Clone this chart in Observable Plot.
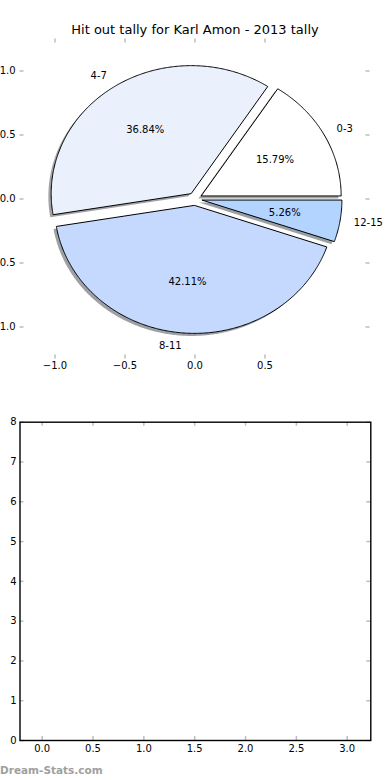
<!DOCTYPE html>
<html><head><meta charset="utf-8">
<script src="https://cdn.jsdelivr.net/npm/d3@7"></script>
<script src="https://cdn.jsdelivr.net/npm/@observablehq/plot@0.6"></script>
<style>
body{margin:0;background:#fff;}
#wrap{position:relative;width:390px;height:780px;overflow:hidden;font-family:"DejaVu Sans",sans-serif;background:#fff;}
#pie{position:absolute;left:0;top:0;}
#empty{position:absolute;left:0;top:380px;}
#title{position:absolute;left:0;width:390px;top:23px;text-align:center;font-size:13px;line-height:13px;color:#000;white-space:nowrap;}
#mark{position:absolute;left:0;top:765px;font-size:10.5px;line-height:10.5px;font-weight:bold;color:#a0a0a0;white-space:nowrap;}
</style></head><body>
<div id="wrap">
<div id="pie"></div>
<div id="empty"></div>
<div id="title"></div>
<div id="mark"></div>
</div>
<script>
const titleText = "Hit out tally for Karl Amon - 2013 tally";
const watermark = "Dream-Stats.com";
const categories = ["0-3", "4-7", "8-11", "12-15"];
const counts = [3, 7, 8, 1];
const colors = ["#ffffff", "#eaf1fd", "#c5d8fe", "#b3d4ff"];
const explode = [0.05, 0.05, 0.05, 0.05];
const pieXTicks = [-1, -0.5, 0, 0.5];
const pieYTicks = [-1, -0.5, 0, 0.5, 1];
const gridXTicks = [0, 0.5, 1, 1.5, 2, 2.5, 3];
const gridYTicks = [0, 1, 2, 3, 4, 5, 6, 7, 8];

document.getElementById("title").textContent = titleText;
document.getElementById("mark").textContent = watermark;

const fmt1 = d => (d < 0 ? "\u2212" : "") + Math.abs(d).toFixed(1);
const fmt0 = d => String(d);

// Build wedge geometry (data units) from the counts
const total = d3.sum(counts);
const rad = Math.PI / 180;
let start = 0;
const wedges = counts.map((c, i) => {
  const a0 = start, a1 = start + 360 * c / total;
  start = a1;
  const mid = (a0 + a1) / 2 * rad;
  const cx = explode[i] * Math.cos(mid), cy = explode[i] * Math.sin(mid);
  const n = Math.max(2, Math.ceil((a1 - a0) / 0.5));
  const pts = [{x: cx, y: cy}];
  for (let k = 0; k <= n; k++) {
    const a = (a0 + (a1 - a0) * k / n) * rad;
    pts.push({x: cx + Math.cos(a), y: cy + Math.sin(a)});
  }
  pts.push({x: cx, y: cy});
  const rgb = d3.rgb(colors[i]);
  return {
    cat: categories[i], color: colors[i],
    shadowColor: d3.rgb(rgb.r * 0.3, rgb.g * 0.3, rgb.b * 0.3).formatHex(),
    pts,
    shadow: pts.map(p => ({x: p.x - 0.02, y: p.y - 0.02})),
    label: {x: cx + 1.1 * Math.cos(mid), y: cy + 1.1 * Math.sin(mid), text: categories[i]},
    pct: {x: cx + 0.6 * Math.cos(mid), y: cy + 0.6 * Math.sin(mid), text: (100 * c / total).toFixed(2) + "%"}
  };
});
const labels = wedges.map(w => w.label);
const pcts = wedges.map(w => w.pct);

const tickColor = "#bdbdbd";
const pieW = 390, pieH = 380, pml = 19.5, pmr = 20.5, pmt = 38.5, pmb = 21.5;
const pfw = pieW - pml - pmr, pfh = pieH - pmt - pmb;

const pie = Plot.plot({
  width: pieW, height: pieH,
  marginLeft: pml, marginRight: pmr, marginTop: pmt, marginBottom: pmb,
  x: {domain: [-1.25, 1.25]},
  y: {domain: [-1.25, 1.25]},
  style: {fontFamily: "DejaVu Sans", fontSize: "10px", background: "transparent", color: "#000"},
  marks: [
    ...wedges.map(w => Plot.line(w.shadow, {x: "x", y: "y", fill: w.shadowColor, fillOpacity: 0.5, stroke: "none"})),
    ...wedges.map(w => Plot.line(w.pts, {x: "x", y: "y", fill: w.color, stroke: "#000", strokeWidth: 1, strokeLinejoin: "miter", strokeLinecap: "butt"})),
    Plot.text(labels.filter(d => d.x >= 0), {x: "x", y: "y", text: "text", textAnchor: "start", fontSize: 10}),
    Plot.text(labels.filter(d => d.x < 0), {x: "x", y: "y", text: "text", textAnchor: "end", fontSize: 10}),
    Plot.text(pcts, {x: "x", y: "y", text: "text", fontSize: 10}),
    Plot.tickX(pieXTicks, {x: d => d, insetBottom: pfh - 4, stroke: tickColor, strokeWidth: 1.5}),
    Plot.tickX(pieXTicks, {x: d => d, insetTop: pfh - 4, stroke: tickColor, strokeWidth: 1.5}),
    Plot.tickY(pieYTicks, {y: d => d, insetRight: pfw - 4, stroke: tickColor, strokeWidth: 1.5}),
    Plot.tickY(pieYTicks, {y: d => d, insetLeft: pfw - 4, stroke: tickColor, strokeWidth: 1.5}),
    Plot.axisX(pieXTicks, {tickSize: 0, tickPadding: 3, tickFormat: fmt1, label: null, fontSize: 10}),
    Plot.axisY(pieYTicks, {tickSize: 0, tickPadding: 4.4, tickFormat: fmt1, label: null, fontSize: 10})
  ]
});
document.getElementById("pie").appendChild(pie);

const gW = 390, gH = 400, gml = 19.5, gmr = 19.7, gmt = 41.7, gmb = 40;
const gfw = gW - gml - gmr, gfh = gH - gmt - gmb;
const grid = Plot.plot({
  width: gW, height: gH,
  marginLeft: gml, marginRight: gmr, marginTop: gmt, marginBottom: gmb,
  x: {domain: [-0.218, 3.232]},
  y: {domain: [0, 8]},
  style: {fontFamily: "DejaVu Sans", fontSize: "10px", background: "transparent", color: "#000"},
  marks: [
    Plot.tickX(gridXTicks, {x: d => d, insetBottom: gfh - 4, stroke: tickColor, strokeWidth: 1.5}),
    Plot.tickX(gridXTicks, {x: d => d, insetTop: gfh - 4, stroke: tickColor, strokeWidth: 1.5}),
    Plot.tickY(gridYTicks, {y: d => d, insetRight: gfw - 4, stroke: tickColor, strokeWidth: 1.5}),
    Plot.tickY(gridYTicks, {y: d => d, insetLeft: gfw - 4, stroke: tickColor, strokeWidth: 1.5}),
    Plot.frame({stroke: "#000", strokeWidth: 1.4}),
    Plot.axisX(gridXTicks, {tickSize: 0, tickPadding: 4.8, tickFormat: fmt1, label: null, fontSize: 10}),
    Plot.axisY(gridYTicks, {tickSize: 0, tickPadding: 3.5, tickFormat: fmt0, label: null, fontSize: 10})
  ]
});
document.getElementById("empty").appendChild(grid);
</script>
</body></html>
